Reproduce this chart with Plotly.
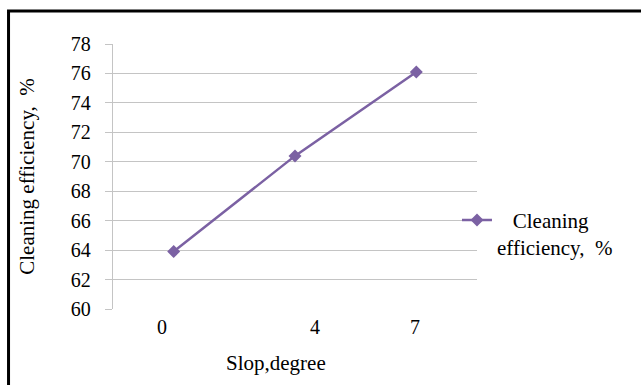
import plotly.graph_objects as go

# Slope settings (degrees) and measured cleaning efficiency (%)
slope_labels = ["0", "4", "7"]
efficiency = [63.9, 70.4, 76.1]
y_ticks = [60, 62, 64, 66, 68, 70, 72, 74, 76, 78]

# points sit at evenly spaced category slots; tick labels are nudged as in the print layout
slot = list(range(len(slope_labels)))
tick_pos = [-0.096, 1.165, 1.989]

FONT = "Liberation Serif"
PURPLE = "#7b61a3"
GRID = "#c4c4c4"

fig = go.Figure()
fig.add_trace(go.Scatter(
    x=slot, y=efficiency,
    mode="lines+markers",
    name="&nbsp;&nbsp;&nbsp;Cleaning<br>efficiency,  %",
    line=dict(color=PURPLE, width=2.5),
    marker=dict(symbol="diamond", size=10, color=PURPLE),
))

fig.update_layout(
    width=641, height=385,
    margin=dict(l=113, r=164, t=44, b=76),
    paper_bgcolor="white", plot_bgcolor="white",
    font=dict(family=FONT, size=20, color="black"),
    showlegend=True,
    legend=dict(
        x=0.945, xanchor="left", y=0.412, yanchor="top",
        valign="top",
        bgcolor="rgba(0,0,0,0)", font=dict(size=21),
        itemwidth=30, tracegroupgap=0,
    ),
    xaxis=dict(
        range=[-0.5, 2.5],
        tickmode="array", tickvals=tick_pos, ticktext=slope_labels,
        showgrid=False, zeroline=False,
        showline=False, ticks="", ticklabelstandoff=4,
    ),
    yaxis=dict(
        range=[60, 78],
        tickmode="array", tickvals=y_ticks,
        showgrid=True, gridcolor=GRID, gridwidth=1.3,
        zeroline=False,
        showline=True, linecolor=GRID, linewidth=1.3,
        ticks="outside", ticklen=7, tickcolor=GRID, tickwidth=1.3,
        ticklabelstandoff=10,
        title=dict(text="Cleaning efficiency,  %", standoff=30,
                   font=dict(size=21)),
    ),
    annotations=[
        dict(text="Slop,degree", xref="paper", yref="paper",
             x=0.449, y=-0.204, xanchor="center", yanchor="middle",
             showarrow=False, font=dict(size=21)),
    ],
    shapes=[
        # outer frame around the figure
        dict(type="rect", xref="paper", yref="paper",
             x0=-0.287, x1=2.0, y0=-1.0, y1=1.1245,
             line=dict(color="black", width=3), fillcolor="rgba(0,0,0,0)",
             layer="above"),
    ],
)

fig.write_html("out.html")
